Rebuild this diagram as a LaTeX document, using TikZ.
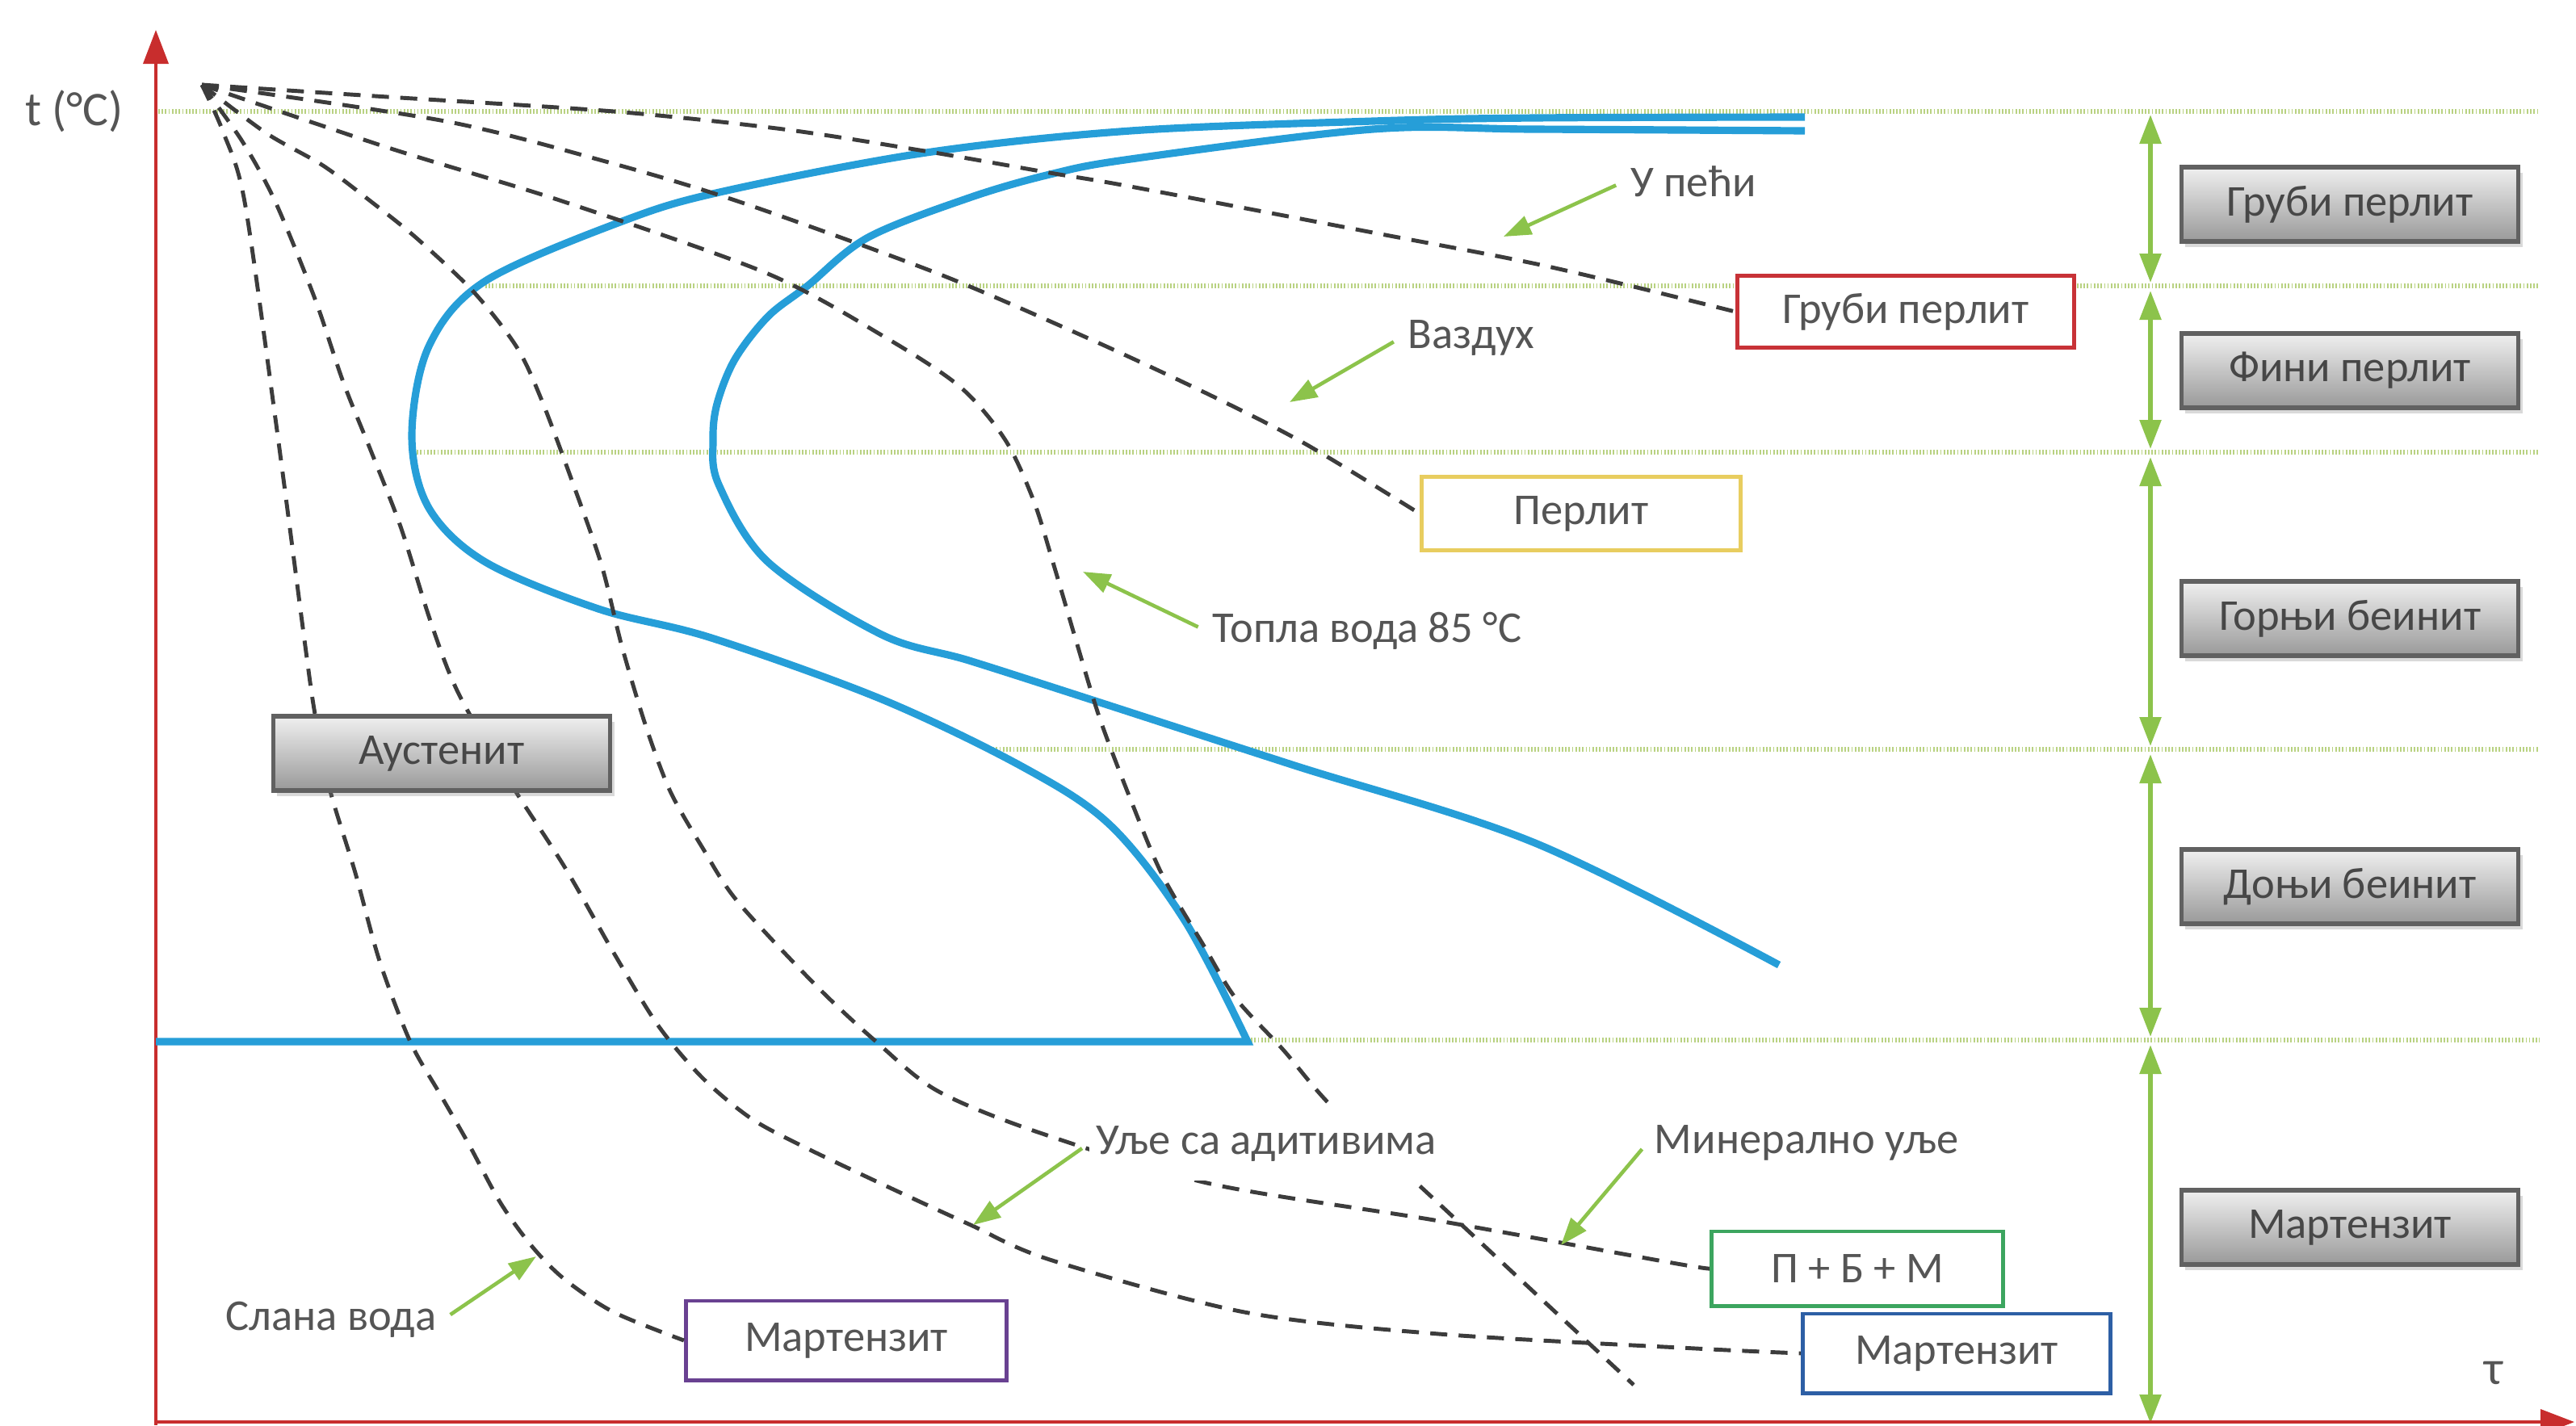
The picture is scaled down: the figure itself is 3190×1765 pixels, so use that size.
\documentclass[tikz,border=0pt]{standalone}
\usepackage{fontspec}
\setmainfont{Carlito}
\usetikzlibrary{arrows.meta,shadows}
\definecolor{axisred}{RGB}{200,45,45}
\definecolor{cblue}{RGB}{38,158,216}
\definecolor{lgreen}{RGB}{140,195,75}
\definecolor{dotgreen}{RGB}{185,210,130}
\definecolor{txtgray}{RGB}{85,85,85}
\definecolor{dashgray}{RGB}{60,60,60}
\definecolor{boxred}{RGB}{200,50,55}
\definecolor{boxyellow}{RGB}{232,205,95}
\definecolor{boxgreen}{RGB}{60,165,95}
\definecolor{boxblue}{RGB}{45,95,165}
\definecolor{boxpurple}{RGB}{105,65,145}
\tikzset{
  lbl/.style={font=\fontsize{15.5}{18}\selectfont, text=txtgray, fill=white, inner xsep=0.08cm, inner ysep=0.24cm},
  cool/.style={dashgray, line width=1.4pt, dash pattern=on 6pt off 4pt},
  ccurve/.style={cblue, line width=2.6pt},
  bound/.style={dotgreen, line width=1.6pt, dash pattern=on 0.5pt off 0.7pt},
  span/.style={lgreen, line width=1.6pt, arrows={Triangle[width=0.26cm,length=0.36cm]-Triangle[width=0.26cm,length=0.36cm]}},
  ptr/.style={lgreen, line width=1.3pt, arrows={-Triangle[width=0.24cm,length=0.34cm]}, shorten <=3pt},
  axis/.style={axisred, line width=1.1pt, arrows={-Triangle[width=0.31cm,length=0.42cm]}},
  phase/.style={draw=black!62, line width=1.5pt, top color=black!6, bottom color=black!40,
    text=black!72, font=\fontsize{15.5}{18}\selectfont, minimum width=4.17cm, minimum height=0.92cm,
    drop shadow={shadow xshift=0.05cm, shadow yshift=-0.07cm, opacity=0.3}},
  result/.style={draw=#1, line width=1.4pt, fill=white, text=txtgray,
    font=\fontsize{15.5}{18}\selectfont, minimum height=0.92cm},
}
\begin{document}
\begin{tikzpicture}[x=0.01cm,y=-0.01cm]
\useasboundingbox (0,0) rectangle (3190,1765);

% temperature ranges
\foreach \yy/\xx in {138/196,354/601,560/512,928/1225,1288/1545}
  \draw[bound] (\xx,\yy) -- (3145,\yy);
\foreach \ya/\yb in {142/350,360/556,566/924,934/1284,1294/1763}
  \draw[span] (2663,\ya) -- (2663,\yb);

% axes
\draw[axis] (193,1765) -- (193,37);
\draw[axis] (193,1761) -- (3188,1761);
\node[font=\fontsize{17}{20}\selectfont, text=txtgray] (tlab) at (92,138) {t (°C)};
\node[font=\fontsize{17}{20}\selectfont, text=txtgray] (taulab) at (3088,1700) {τ};

% C curves and Ms
\draw[ccurve] plot[smooth, tension=0.55] coordinates {(2235,145) (1900,146) (1700,150) (1400,162)
  (1147,189) (900,236) (776,272) (601,348) (531,429) (510,540) (531,629) (601,696) (741,754)
  (881,790) (1092,866) (1267,950) (1375,1022) (1467,1140) (1545,1290)} -- (193,1290);
\draw[ccurve] plot[smooth, tension=0.55] coordinates {(2235,162) (1900,160) (1700,160) (1400,197)
  (1300,216) (1200,245) (1075,294) (1000,354) (951,392) (910,445) (888,500) (883,545) (890,600)
  (951,696) (1092,786) (1200,818) (1350,866) (1600,947) (1901,1044) (2203,1195)};

% result boxes
\node[result=boxred, minimum width=4.17cm, minimum height=0.89cm] (coarse) at (2360,386) {Груби перлит};
\node[result=boxyellow, minimum width=3.95cm, minimum height=0.91cm] (pearl) at (1958,636) {Перлит};
\node[result=boxgreen, minimum width=3.61cm] (pbm) at (2300,1571) {П + Б + М};
\node[result=boxblue, minimum width=3.81cm, minimum height=0.98cm] (martblue) at (2423,1676) {Мартензит};
\node[result=boxpurple, minimum width=3.97cm, minimum height=0.98cm] (martpurple) at (1048,1660) {Мартензит};

% cooling curves
\coordinate (O) at (250,105);
\coordinate (hotend) at (2023,1715);
\draw[cool] plot[smooth] coordinates {(O) (480,120) (760,138) (970,160) (1145,187) (1300,214)
  (1400,231) (1700,288) (1917,330) (coarse.west)};
\draw[cool] plot[smooth] coordinates {(O) (551,150) (750,200) (916,250) (1162,339) (1350,420)
  (1500,490) (1617,550) (pearl.west)};
\draw[cool] plot[smooth] coordinates {(O) (481,183) (699,250) (951,339) (1100,420) (1190,480)
  (1245,545) (1280,620) (1305,700) (1333,795) (1362,890) (1400,990) (1439,1083) (1490,1170)
  (1530,1236) (1589,1300) (1649,1370) (1752,1463) (1880,1582) (hotend)};
\draw[cool] plot[smooth] coordinates {(O) (330,165) (400,205) (460,250) (516,295) (587,362)
  (640,430) (671,496) (710,600) (745,700) (770,800) (800,900) (830,980) (870,1050) (913,1116)
  (1010,1220) (1085,1290) (1161,1351) (1285,1402) (1499,1466) (1782,1512) (2071,1564) (pbm.west)};
\draw[cool] plot[smooth] coordinates {(O) (300,175) (341,250) (390,370) (425,473) (460,560)
  (496,652) (530,760) (555,830) (579,880) (636,976) (700,1075) (760,1180) (815,1270) (870,1335)
  (930,1385) (995,1420) (1100,1470) (1202,1517) (1300,1560) (1541,1625) (1782,1652) (2100,1670)
  (martblue.west)};
\draw[cool] plot[smooth] coordinates {(O) (277,165) (303,250) (341,518) (378,800) (390,884)
  (408,976) (440,1081) (470,1190) (508,1290) (545,1355) (580,1416) (620,1490) (660,1545)
  (700,1585) (760,1625) (martpurple.west)};

% phases
\node[phase] (aust) at (547,933) {Аустенит};
\node[phase] (pcoarse) at (2910,253) {Груби перлит};
\node[phase] (pfine) at (2910,459) {Фини перлит};
\node[phase] (bupper) at (2910,766) {Горњи беинит};
\node[phase] (blower) at (2910,1098) {Доњи беинит};
\node[phase] (mart) at (2910,1520) {Мартензит};

% cooling media
\node[lbl] (lfurn) at (2097,225) {У пећи};
\node[lbl] (lair) at (1822,418) {Ваздух};
\node[lbl] (lhot) at (1693,781) {Топла вода 85 °C};
\node[lbl] (ladd) at (1568,1416) {Уље са адитивима};
\node[lbl] (lmin) at (2237,1415) {Минерално уље};
\node[lbl] (lbrine) at (410,1634) {Слана вода};
\coordinate (tfurn) at (1862,293);
\coordinate (tair) at (1597,498);
\coordinate (thot) at (1341,708);
\coordinate (tadd) at (1205,1517);
\coordinate (tmin) at (1933,1542);
\coordinate (tbrine) at (664,1556);
\draw[ptr] (lfurn.west) -- (tfurn);
\draw[ptr] (lair.west) -- (tair);
\draw[ptr] (lhot.west) -- (thot);
\draw[ptr] (ladd.west) -- (tadd);
\draw[ptr] (lmin.west) -- (tmin);
\draw[ptr] (lbrine.east) -- (tbrine);

\end{tikzpicture}
\end{document}
